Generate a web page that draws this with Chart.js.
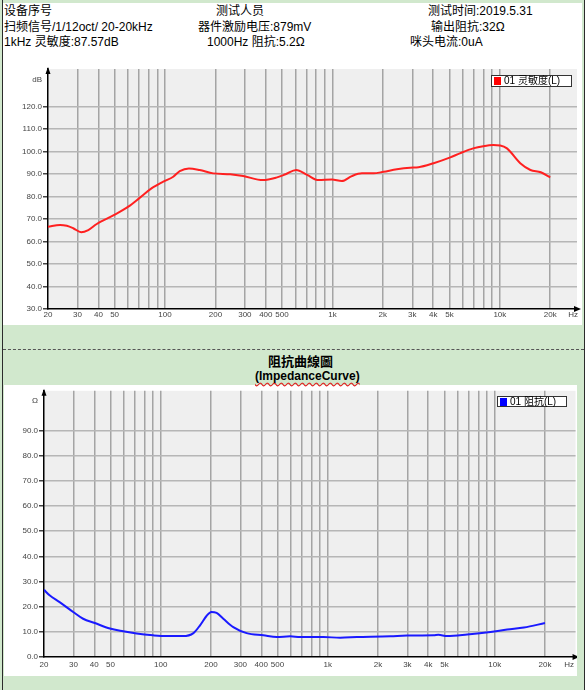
<!DOCTYPE html>
<html>
<head>
<meta charset="utf-8">
<script src="https://cdn.jsdelivr.net/npm/chart.js@4.4.0/dist/chart.umd.min.js"></script>
<style>
body{margin:0;width:587px;height:690px;position:relative;overflow:hidden;background:#fff;font-family:"Liberation Sans","Noto Sans CJK SC",sans-serif;color:#000}
.abs{position:absolute}
.bg{left:0;top:0;width:585px;height:690px;background:#d1e8cd}
.vline{top:0;width:1px;height:690px;background:#2b2b2b}
.white{background:#fff}
.hd{position:absolute;font-size:12px;line-height:14px;white-space:nowrap}
.lg{position:absolute;background:#fff;border:1px solid #333;font-size:10px;line-height:10px;white-space:nowrap;box-sizing:border-box;padding:0 0 0 2px}
.lg i{display:inline-block;width:7px;height:8px;vertical-align:-1px;margin-right:3px}
.ttl{position:absolute;font-weight:bold;white-space:nowrap}
</style>
</head>
<body>
<div class="abs bg"></div>
<div class="abs vline" style="left:2px"></div>
<div class="abs vline" style="left:584px"></div>
<div class="abs white" style="left:3px;top:3px;width:579px;height:322px"></div>
<div class="abs" style="left:3px;top:349px;width:581px;border-top:1px dashed #555"></div>
<div class="abs white" style="left:4px;top:385px;width:573px;height:291px"></div>

<!-- header -->
<div class="hd" style="left:4px;top:4px">设备序号</div>
<div class="hd" style="left:216px;top:4px">测试人员</div>
<div class="hd" style="left:428px;top:4px">测试时间:2019.5.31</div>
<div class="hd" style="left:4px;top:20px">扫频信号/1/12oct/ 20-20kHz</div>
<div class="hd" style="left:198px;top:20px">器件激励电压:879mV</div>
<div class="hd" style="left:431px;top:20px">输出阻抗:32Ω</div>
<div class="hd" style="left:4px;top:35px">1kHz 灵敏度:87.57dB</div>
<div class="hd" style="left:207px;top:35px">1000Hz 阻抗:5.2Ω</div>
<div class="hd" style="left:410px;top:35px">咪头电流:0uA</div>

<div class="abs" style="left:4px;top:60px"><canvas id="c1" width="578" height="265"></canvas></div>
<div class="lg" style="left:491px;top:75px;width:81px;height:12px"><i style="background:#ff0000"></i>01 灵敏度(L)</div>

<div class="ttl" style="left:268px;top:351px;font-size:13px">阻抗曲線圖</div>
<div class="ttl" style="left:255px;top:369px;font-size:12px;text-decoration:underline wavy #e02020;text-underline-offset:2px">(ImpedanceCurve)</div>

<div class="abs" style="left:4px;top:385px"><canvas id="c2" width="573" height="291"></canvas></div>
<div class="lg" style="left:497px;top:396px;width:70px;height:11px"><i style="background:#0000ff"></i>01 阻抗(L)</div>

<script>
// ====== Data ======
const sensFreq = [20,23.6,25.9,28.3,31.6,34.8,39.1,49.1,60.4,70.8,83,97.6,112,122.5,138.9,161,194,245,293,385,462,525,607,706,826,991,1138,1306,1500,1760,2020,2425,2910,3265,4020,5060,5770,6930,7960,9150,10050,11030,13240,15230,17570,20000];
const sensDb   = [66.6,67.4,67.0,65.9,64.1,65.1,67.8,71.6,75.5,79.5,83.6,86.6,88.8,91.3,92.5,91.8,90.3,89.9,89.1,87.3,88.4,89.9,91.8,89.6,87.3,87.6,86.9,89.1,90.3,90.3,91.0,92.1,92.8,93.0,94.8,97.4,99.2,101.4,102.4,102.9,102.7,101.4,94.8,91.8,90.8,88.5];

const impFreq = [20,21.6,24.8,29.9,34.3,40.3,49.6,59.6,71.7,90,108,136,157,172,188,201,216,237,272,327,412,496,596,684,944,1188,1496,2370,2986,4316,4600,5188,6840,9440,11880,14960,20000];
const impOhm  = [26.7,24.5,21.8,17.9,15.2,13.5,11.3,10.2,9.3,8.6,8.3,8.3,9.5,12.6,16.3,17.9,17.5,15.2,11.9,9.5,8.6,7.9,8.2,7.9,7.9,7.7,7.9,8.2,8.5,8.6,8.8,8.3,8.9,9.9,10.9,11.7,13.5];

const gridFreq  = [20,30,40,50,60,70,80,90,100,200,300,400,500,600,700,800,900,1000,2000,3000,4000,5000,6000,7000,8000,9000,10000,20000];
const labelFreq = [20,30,40,50,100,200,300,400,500,1000,2000,3000,4000,5000,10000,20000];
const dbTicks   = [30,40,50,60,70,80,90,100,110,120];
const ohmTicks  = [0,10,20,30,40,50,60,70,80,90];

// ====== Helpers ======
Chart.defaults.font.family = '"Liberation Sans","Noto Sans CJK SC",sans-serif';
Chart.defaults.font.size = 8;
Chart.defaults.color = '#444';

const fmtHz = v => v>=1000 ? (v/1000)+'k' : String(v);

const plotBg = {
  id:'plotBg',
  beforeDraw(c){ const a=c.chartArea, x=c.ctx; x.save(); x.fillStyle='#efefef'; x.fillRect(a.left,a.top,a.right-a.left,a.bottom-a.top); x.restore(); },
  afterDraw(c){
    const a=c.chartArea, x=c.ctx; x.save(); x.fillStyle='#000';
    x.beginPath(); x.moveTo(a.left,a.top-2); x.lineTo(a.left-2.5,a.top+5); x.lineTo(a.left+2.5,a.top+5); x.closePath(); x.fill();
    x.beginPath(); x.moveTo(a.right+4,a.bottom); x.lineTo(a.right-3,a.bottom-3); x.lineTo(a.right-3,a.bottom+3); x.closePath(); x.fill();
    x.restore();
  }
};

function makeChart(id, freq, vals, color, o){
  const unitVal = o.unit;
  return new Chart(document.getElementById(id), {
    type:'line',
    data:{ datasets:[{ data:freq.map((f,i)=>({x:f,y:vals[i]})), borderColor:color, borderWidth:2, pointRadius:0, cubicInterpolationMode:'monotone' }]},
    options:{
      responsive:false, animation:false,
      layout:{ padding:{ top:o.padTop, right:o.padRight, left:0, bottom:0 } },
      plugins:{ legend:{display:false}, tooltip:{enabled:false} },
      scales:{
        x:{
          type:'logarithmic', min:20, max:o.xMax,
          afterBuildTicks:s=>{ s.ticks = gridFreq.concat([o.hzAt]).map(v=>({value:v})); },
          afterFit:s=>{ s.height = o.xH; },
          ticks:{ autoSkip:false, maxRotation:0, padding:o.xPad, callback:v=> v===o.hzAt ? 'Hz' : (labelFreq.includes(v) ? fmtHz(v) : '') },
          grid:{ drawTicks:false, lineWidth:1.5, color:ctx=> (ctx.tick && (ctx.tick.value===20 || ctx.tick.value===o.hzAt)) ? 'rgba(0,0,0,0)' : '#a4a4a4' },
          border:{ color:'#000', width:1.5 }
        },
        y:{
          min:o.yMin, max:o.yMax,
          afterBuildTicks:s=>{ s.ticks = o.yTicks.concat([o.unitAt]).map(v=>({value:v})); },
          afterFit:s=>{ s.width = o.yW; },
          ticks:{ autoSkip:false, padding:1, callback:v=> v===o.unitAt ? unitVal : v.toFixed(1) },
          grid:{ tickLength:5, lineWidth:1.5,
            color:ctx=> (ctx.tick && (ctx.tick.value===o.yMin || ctx.tick.value===o.unitAt)) ? 'rgba(0,0,0,0)' : '#b6b6b6',
            tickColor:ctx=> (ctx.tick && ctx.tick.value===o.unitAt) ? 'rgba(0,0,0,0)' : '#444' },
          border:{ color:'#000', width:1.5 }
        }
      }
    },
    plugins:[plotBg]
  });
}

// ====== Charts ======
makeChart('c1', sensFreq, sensDb, '#ff2020', { xMax:28900, hzAt:27360, xH:16, xPad:1, padTop:9, padRight:5, yMin:30, yMax:136.7, yTicks:dbTicks, unitAt:132, unit:'dB', yW:44 });
makeChart('c2', impFreq, impOhm, '#1a1aff', { xMax:30500, hzAt:27900, xH:19, xPad:3, padTop:5, padRight:1, yMin:0, yMax:105.8, yTicks:ohmTicks, unitAt:102, unit:'Ω', yW:40 });
</script>
</body>
</html>
